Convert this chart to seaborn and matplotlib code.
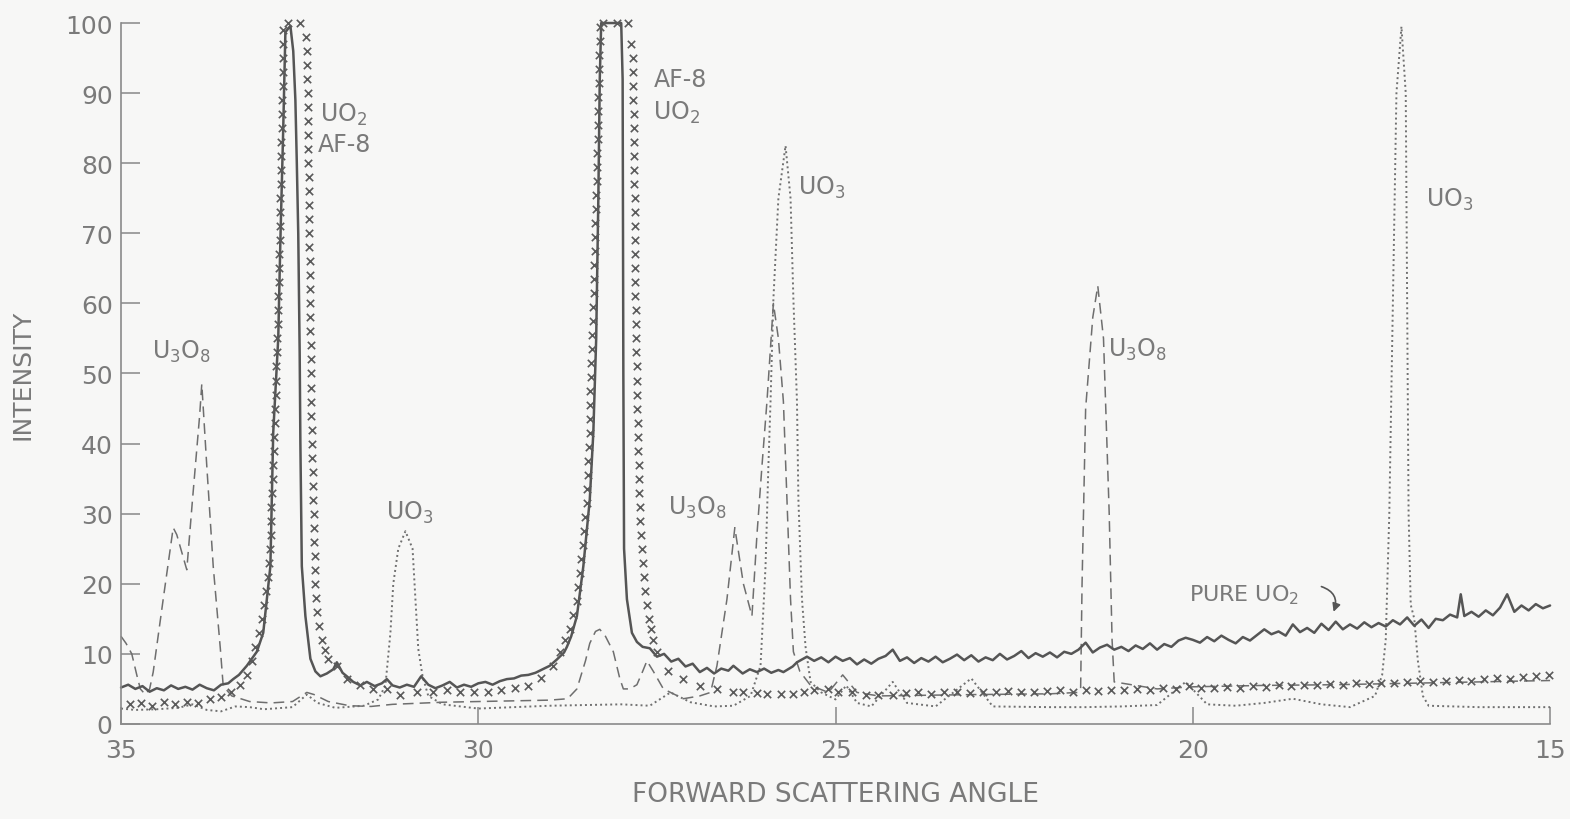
import matplotlib
matplotlib.use("Agg")
import matplotlib.pyplot as plt
import seaborn as sns

# ---- data ----
# solid trace: pure UO2
uo2_x = [35.0, 34.9, 34.8, 34.7, 34.6, 34.5, 34.4, 34.3, 34.2, 34.1, 34.0, 33.9, 33.8, 33.7, 33.6, 33.5,
         33.43, 33.35, 33.24, 33.1, 33.01, 32.96, 32.91, 32.89, 32.87, 32.8, 32.77, 32.73, 32.7, 32.63,
         32.59, 32.56, 32.54, 32.52, 32.5, 32.49, 32.47, 32.42, 32.35, 32.28, 32.21, 32.12, 32.03, 31.98,
         31.9, 31.84, 31.75, 31.65, 31.56, 31.45, 31.35, 31.28, 31.2, 31.1, 31.0, 30.9, 30.8, 30.7, 30.6,
         30.5, 30.4, 30.3, 30.2, 30.1, 30.0, 29.9, 29.8, 29.7, 29.6, 29.5, 29.4, 29.3, 29.2, 29.1, 29.0,
         28.9, 28.8, 28.76, 28.7, 28.62, 28.53, 28.44, 28.39, 28.35, 28.32, 28.3, 28.28, 28.0, 27.98,
         27.975, 27.97, 27.96, 27.92, 27.85, 27.78, 27.7, 27.6, 27.5, 27.4, 27.3, 27.2, 27.1, 27.0, 26.9,
         26.8, 26.7, 26.6, 26.5, 26.43, 26.3, 26.2, 26.1, 26.0, 25.9, 25.8, 25.73, 25.6, 25.54, 25.4, 25.3,
         25.2, 25.1, 25.0, 24.9, 24.8, 24.7, 24.6, 24.5, 24.4, 24.3, 24.2, 24.1, 24.0, 23.9, 23.8, 23.7,
         23.6, 23.5, 23.4, 23.3, 23.2, 23.1, 23.0, 22.9, 22.8, 22.7, 22.6, 22.5, 22.4, 22.3, 22.2, 22.1,
         22.0, 21.9, 21.8, 21.7, 21.6, 21.5, 21.4, 21.3, 21.2, 21.1, 21.0, 20.9, 20.8, 20.7, 20.6, 20.5,
         20.4, 20.3, 20.2, 20.1, 20.0, 19.9, 19.8, 19.7, 19.6, 19.5, 19.4, 19.3, 19.2, 19.1, 19.0, 18.9,
         18.8, 18.7, 18.6, 18.5, 18.4, 18.3, 18.2, 18.1, 18.0, 17.9, 17.8, 17.7, 17.6, 17.5, 17.4, 17.3,
         17.2, 17.1, 17.0, 16.9, 16.8, 16.7, 16.6, 16.5, 16.4, 16.3, 16.25, 16.2, 16.1, 16.0, 15.9, 15.8,
         15.7, 15.6, 15.5, 15.4, 15.3, 15.2, 15.1, 15.0]
uo2_y = [5.2, 5.6, 5.0, 5.4, 4.6, 5.1, 4.8, 5.5, 5.0, 5.3, 4.9, 5.6, 5.1, 4.8, 5.6, 5.8,
         6.4, 7.0, 8.3, 10.3, 13.0, 17.8, 22.5, 32.0, 41.6, 55.0, 69.0, 85.0, 98.7, 99.6,
         96.0, 89.0, 80.0, 70.0, 53.0, 40.0, 22.5, 15.4, 9.3, 7.5, 6.8, 7.2, 7.8, 8.8,
         7.3, 6.8, 6.0, 5.5, 6.0, 5.4, 5.8, 6.4, 5.5, 5.2, 5.6, 5.3, 6.8, 5.6, 5.1,
         5.5, 6.0, 5.2, 5.6, 5.3, 5.8, 6.0, 5.6, 6.1, 6.4, 6.5, 6.9, 7.0, 7.3, 7.8, 8.3,
         9.2, 10.2, 11.0, 12.5, 15.4, 22.5, 32.0, 41.6, 55.0, 75.0, 92.0, 100.0, 100.0, 92.0,
         70.0, 50.0, 25.0, 17.8, 13.0, 11.7, 11.0, 10.8, 9.6, 10.0, 8.9, 9.3, 8.2, 8.6, 7.4,
         8.0, 7.2, 7.9, 7.6, 8.3, 7.2, 7.8, 7.4, 7.9, 7.3, 7.7, 7.4, 8.2, 8.8, 9.6, 9.0,
         9.5, 8.8, 9.6, 9.0, 9.4, 8.5, 9.2, 8.6, 9.3, 9.7, 10.6, 9.0, 9.5, 8.7, 9.4, 8.9,
         9.6, 8.8, 9.3, 9.9, 9.1, 9.8, 8.9, 9.5, 9.1, 10.0, 9.2, 9.7, 10.4, 9.4, 10.1, 9.6,
         10.2, 9.5, 10.3, 10.0, 10.6, 11.6, 10.2, 10.9, 11.3, 10.6, 11.0, 10.4, 11.2, 10.7, 11.5, 10.6,
         11.4, 11.0, 11.9, 12.3, 12.0, 11.6, 12.4, 11.8, 12.6, 12.0, 11.5, 12.4, 11.9, 12.7, 13.5, 12.8,
         13.2, 12.6, 14.2, 13.1, 13.7, 13.0, 14.3, 13.4, 14.6, 13.5, 14.2, 13.6, 14.5, 13.8, 14.4, 13.9,
         14.8, 14.2, 15.2, 14.0, 14.9, 13.7, 15.0, 14.8, 15.6, 15.2, 18.5, 15.4, 16.0, 15.3, 16.2, 15.5,
         16.6, 18.5, 16.0, 16.9, 16.2, 17.1, 16.5, 16.9]

# x markers: AF-8 sample (each plotted cross)
af8_x = [34.88, 34.72, 34.56, 34.40, 34.24, 34.08, 33.92, 33.76, 33.60, 33.46, 33.34, 33.24, 33.17,
         # first peak, rising side
         33.12, 33.07, 33.03, 33.00, 32.97, 32.95, 32.93, 32.915, 32.905, 32.90, 32.895, 32.885, 32.875,
         32.87, 32.86, 32.855, 32.845, 32.84, 32.835, 32.83, 32.825, 32.82, 32.815, 32.81, 32.805, 32.80,
         32.795, 32.79, 32.785, 32.78, 32.78, 32.775, 32.77, 32.765, 32.76, 32.76, 32.755, 32.75, 32.75,
         32.745, 32.74, 32.74, 32.735, 32.73, 32.73,
         32.66, 32.50,
         # first peak, falling side
         32.41, 32.40, 32.40, 32.395, 32.39, 32.39, 32.385, 32.38, 32.38, 32.38, 32.375, 32.375, 32.37,
         32.37, 32.365, 32.365, 32.36, 32.36, 32.355, 32.355, 32.35, 32.35, 32.345, 32.345, 32.34, 32.34,
         32.335, 32.335, 32.33, 32.33, 32.325, 32.32, 32.315, 32.31, 32.305, 32.30, 32.295, 32.29, 32.285,
         32.28, 32.27, 32.255, 32.235, 32.19, 32.15, 32.10,
         # valley
         31.98, 31.84, 31.65, 31.47, 31.28, 31.10, 30.86, 30.63, 30.44, 30.25, 30.06, 29.87, 29.68, 29.49,
         29.30, 29.12, 28.95, 28.85, 28.78,
         # second peak, rising side
         28.71, 28.67, 28.62, 28.60, 28.58, 28.56, 28.54, 28.52, 28.50, 28.48, 28.475, 28.47, 28.46, 28.45,
         28.44, 28.44, 28.435, 28.43, 28.425, 28.42, 28.415, 28.41, 28.40, 28.39, 28.385, 28.38, 28.375,
         28.37, 28.365, 28.36, 28.355, 28.35, 28.345, 28.34, 28.335, 28.33, 28.325, 28.32, 28.32, 28.315,
         28.31, 28.305, 28.30, 28.30,
         28.25, 28.06, 27.90,
         # second peak, falling side
         27.86, 27.84, 27.835, 27.83, 27.83, 27.825, 27.825, 27.82, 27.82, 27.815, 27.815, 27.81, 27.81,
         27.81, 27.805, 27.805, 27.80, 27.80, 27.80, 27.795, 27.795, 27.79, 27.79, 27.785, 27.785, 27.78,
         27.775, 27.77, 27.765, 27.76, 27.755, 27.75, 27.745, 27.74, 27.73, 27.72, 27.71, 27.695, 27.68,
         27.66, 27.635, 27.61, 27.585, 27.55, 27.50,
         # tail
         27.35, 27.13, 26.90, 26.66, 26.43, 26.29, 26.10, 25.96, 25.77, 25.59, 25.44, 25.30, 25.10, 24.96,
         24.77, 24.58, 24.40, 24.20,
         24.02, 23.84, 23.66, 23.48, 23.30, 23.12, 22.94, 22.76, 22.58, 22.40,
         22.22, 22.04, 21.86, 21.68, 21.50, 21.32, 21.14, 20.96, 20.78, 20.60,
         20.42, 20.24, 20.06, 19.88, 19.70, 19.52, 19.34, 19.16, 18.98, 18.80,
         18.62, 18.44, 18.26, 18.08, 17.90, 17.72, 17.54, 17.36, 17.18, 17.00,
         16.82, 16.64, 16.46, 16.28, 16.10, 15.92, 15.74, 15.56, 15.38, 15.20,
         15.02]
af8_y = [2.8, 3.0, 2.6, 3.1, 2.9, 3.2, 3.0, 3.6, 3.9, 4.5, 5.5, 7.0, 9.0,
         11, 13, 15, 17, 19, 21, 23, 25, 27, 29, 31, 33, 35,
         37, 39, 41, 43, 45, 47, 49, 51, 53, 55, 57, 59, 61,
         63, 65, 67, 69, 71, 73, 75, 77, 79, 81, 83, 85, 87,
         89, 91, 93, 95, 97, 99,
         100, 100,
         98, 96, 94, 92, 90, 88, 86, 84, 82, 80, 78, 76, 74,
         72, 70, 68, 66, 64, 62, 60, 58, 56, 54, 52, 50, 48,
         46, 44, 42, 40, 38, 36, 34, 32, 30, 28, 26, 24, 22,
         20, 18, 16, 14, 12, 10.5, 9.2,
         8.3, 6.4, 5.5, 5.0, 5.0, 4.2, 4.5, 4.5, 4.8, 4.5, 4.6, 4.5, 4.9, 5.2,
         5.4, 6.6, 8.3, 10.3, 12.0,
         13.5, 15.5, 17.5, 19.5, 21.5, 23.5, 25.5, 27.5, 29.5, 31.5, 33.5, 35.5, 37.5, 39.5,
         41.5, 43.5, 45.5, 47.5, 49.5, 51.5, 53.5, 55.5, 57.5, 59.5, 61.5, 63.5, 65.5,
         67.5, 69.5, 71.5, 73.5, 75.5, 77.5, 79.5, 81.5, 83.5, 85.5, 87.5, 89.5, 91.5,
         93.5, 95.5, 97.5, 99.5,
         100, 100, 100,
         97, 95, 93, 91, 89, 87, 85, 83, 81, 79, 77, 75, 73,
         71, 69, 67, 65, 63, 61, 59, 57, 55, 53, 51, 49, 47,
         45, 43, 41, 39, 37, 35, 33, 31, 29, 27, 25, 23, 21,
         19, 17, 15, 13.5, 12, 10.3,
         7.6, 6.4, 5.4, 5.0, 4.5, 4.5, 4.4, 4.3, 4.3, 4.3, 4.6, 4.8, 5.0, 4.5,
         4.5, 4.2, 4.2, 4.2,
         4.4, 4.5, 4.3, 4.6, 4.5, 4.4, 4.6, 4.5, 4.7, 4.6,
         4.5, 4.7, 4.8, 4.6, 4.8, 4.7, 4.9, 4.8, 5.0, 4.9,
         5.1, 5.0, 5.4, 5.1, 5.2, 5.3, 5.1, 5.4, 5.3, 5.5,
         5.4, 5.6, 5.5, 5.7, 5.6, 5.8, 5.7, 5.9, 5.8, 6.0,
         6.1, 6.0, 6.2, 6.3, 6.2, 6.4, 6.5, 6.4, 6.7, 6.8,
         7.0]

# dashed trace: U3O8
u3o8_x = [35.0, 34.93, 34.85, 34.78, 34.73, 34.66, 34.6, 34.55, 34.41, 34.27, 34.22, 34.08, 34.0, 33.9,
          33.87, 33.8, 33.71, 33.61, 33.57, 33.45, 33.2, 32.9, 32.6, 32.4, 32.3, 32.1, 31.8, 31.5, 31.2,
          30.5, 30.0, 29.5, 29.0, 28.75, 28.62, 28.5, 28.44, 28.36, 28.3, 28.22, 28.11, 28.02, 27.97,
          27.88, 27.78, 27.7, 27.64, 27.55, 27.41, 27.13, 26.9, 26.75, 26.66, 26.52, 26.41, 26.29, 26.17,
          26.1, 26.03, 25.96, 25.87, 25.8, 25.73, 25.68, 25.63, 25.59, 25.5, 25.35, 25.1, 24.9, 24.7,
          24.4, 23.0, 22.0, 21.6, 21.57, 21.55, 21.5, 21.4, 21.33, 21.25, 21.17, 21.13, 21.1, 20.5, 20.0,
          19.0, 18.0, 17.0, 16.0, 15.0]
u3o8_y = [12.5, 11.5, 10.0, 7.0, 5.0, 4.2, 5.0, 7.4, 17.8, 28.0, 27.0, 22.0, 32.0, 44.0,
          48.5, 36.8, 22.5, 10.7, 5.4, 4.0, 3.2, 3.0, 3.2, 4.5, 4.2, 3.2, 2.6, 2.5, 2.8,
          3.1, 3.2, 3.3, 3.4, 3.6, 5.0, 9.0, 11.5, 13.2, 13.5, 12.5, 10.3, 6.5, 5.0,
          5.0, 5.6, 7.5, 9.0, 7.5, 5.0, 3.6, 4.0, 4.5, 8.3, 17.8, 28.0, 20.0, 15.4,
          27.0, 36.8, 46.0, 60.0, 55.0, 46.0, 32.0, 17.8, 10.3, 7.5, 5.5, 4.5, 7.0, 4.5,
          4.0, 4.2, 4.3, 4.5, 5.0, 20.0, 45.0, 58.0, 62.5, 55.0, 30.0, 12.0, 6.0, 5.0, 5.3,
          5.5, 5.6, 5.8, 6.0, 6.2]

# dotted trace: UO3
uo3_x = [35.0, 34.8, 34.5, 34.2, 34.0, 33.8, 33.6, 33.4, 33.2, 33.0, 32.6, 32.4, 32.25, 32.0, 31.6,
         31.4, 31.3, 31.23, 31.19, 31.12, 31.02, 30.92, 30.88, 30.84, 30.78, 30.7, 30.5, 30.0, 29.5,
         29.0, 28.5, 28.0, 27.6, 27.31, 27.03, 26.7, 26.43, 26.19, 26.05, 25.98, 25.94, 25.91, 25.87,
         25.8, 25.7, 25.63, 25.59, 25.54, 25.52, 25.47, 25.42, 25.35, 25.2, 25.0, 24.85, 24.7, 24.5,
         24.2, 24.0, 23.6, 23.1, 22.8, 22.0, 21.5, 21.0, 20.5, 20.1, 19.8, 19.4, 19.0, 18.6, 18.2,
         17.8, 17.45, 17.35, 17.3, 17.25, 17.2, 17.15, 17.08, 17.02, 17.0, 16.98, 16.95, 16.9, 16.85,
         16.78, 16.7, 16.0, 15.0]
uo3_y = [2.2, 2.0, 2.1, 2.3, 2.8, 2.0, 1.8, 2.5, 2.4, 2.1, 2.4, 4.2, 3.0, 2.3, 2.6,
         3.5, 5.5, 13.0, 20.0, 25.0, 27.5, 25.0, 17.8, 10.7, 6.8, 4.0, 2.8, 2.2, 2.4,
         2.6, 2.7, 2.8, 2.6, 4.5, 3.1, 2.5, 2.6, 4.0, 8.3, 22.5, 36.8, 46.0, 60.6,
         75.0, 82.5, 75.0, 60.6, 46.0, 32.0, 17.8, 11.0, 6.0, 4.5, 3.5, 5.5, 3.0, 2.5,
         6.0, 3.0, 2.5, 6.5, 2.5, 2.4, 2.4, 2.5, 2.7, 6.0, 2.8, 2.6, 3.0, 3.6, 2.8,
         2.4, 4.0, 7.0, 12.0, 30.0, 60.0, 90.0, 99.5, 90.0, 60.0, 30.0, 17.0, 15.0, 9.0,
         4.0, 2.6, 2.4, 2.4]

# peak labels: (text, x, y)
labels = [
    (r"U$_3$O$_8$", 34.57, 53.2),
    (r"UO$_2$", 32.21, 87.0),
    ("AF-8", 32.24, 82.7),
    (r"UO$_3$", 31.29, 30.2),
    ("AF-8", 27.55, 92.0),
    (r"UO$_2$", 27.55, 87.3),
    (r"UO$_3$", 25.52, 76.6),
    (r"U$_3$O$_8$", 27.34, 31.0),
    (r"U$_3$O$_8$", 21.18, 53.5),
    (r"UO$_3$", 16.74, 74.9),
]

x_ticks = [35, 30, 25, 20, 15]
y_ticks = [0, 10, 20, 30, 40, 50, 60, 70, 80, 90, 100]

# ---- plotting ----
sns.set_theme(style="white")
plt.rcParams["font.family"] = ["DejaVu Sans"]
paper = "#f7f7f6"
ink = "#7a7a7a"

fig = plt.figure(figsize=(15.7, 8.2), dpi=100, facecolor=paper)
ax = fig.add_axes([0.0771, 0.1159, 0.9102, 0.8548])
ax.set_facecolor(paper)

sns.lineplot(x=u3o8_x, y=u3o8_y, estimator=None, sort=False, color="#6e6e6e",
             linewidth=1.1, ax=ax, clip_on=False)
ax.lines[-1].set_dashes((7, 4))
sns.lineplot(x=uo3_x, y=uo3_y, estimator=None, sort=False, color="#707070",
             linewidth=1.4, ax=ax, clip_on=False)
ax.lines[-1].set_dashes((1, 1.6))
sns.lineplot(x=uo2_x, y=uo2_y, estimator=None, sort=False, color="#555555",
             linewidth=1.8, ax=ax, clip_on=False)
sns.scatterplot(x=af8_x, y=af8_y, marker="x", s=28, linewidth=1.2, color="#5a5a5a",
                ax=ax, clip_on=False, zorder=3)

for text, tx, ty in labels:
    ax.text(tx, ty, text, fontsize=17, color=ink, ha="left", va="center")

ax.text(20.06, 18.5, r"PURE UO$_2$", fontsize=16, color=ink, ha="left", va="center")
ax.annotate("", xy=(18.03, 16.0), xytext=(18.2, 19.6),
            arrowprops=dict(arrowstyle="-|>", color="#555555", lw=1.2,
                            connectionstyle="arc3,rad=-0.5", shrinkA=0, shrinkB=0))

ax.set_xlim(35, 15)
ax.set_ylim(0, 100)
ax.set_xticks(x_ticks)
ax.set_yticks(y_ticks)
ax.set_xticklabels([str(t) for t in x_ticks])
ax.set_yticklabels([str(t) for t in y_ticks])
ax.tick_params(axis="y", direction="in", length=14, width=1.1, color="#888888",
               labelsize=18, labelcolor=ink, pad=6, left=True)
ax.tick_params(axis="x", direction="in", length=12, width=1.1, color="#888888",
               labelsize=18, labelcolor=ink, pad=10, bottom=True)

for side in ["top", "right"]:
    ax.spines[side].set_visible(False)
for side in ["left", "bottom"]:
    ax.spines[side].set_color("#8a8a8a")
    ax.spines[side].set_linewidth(1.2)

ax.set_xlabel("FORWARD SCATTERING ANGLE", fontsize=19, color=ink, labelpad=14)
ax.set_ylabel("INTENSITY", fontsize=18, color=ink, labelpad=22)

fig.savefig("out.png", dpi=100, facecolor=paper)
